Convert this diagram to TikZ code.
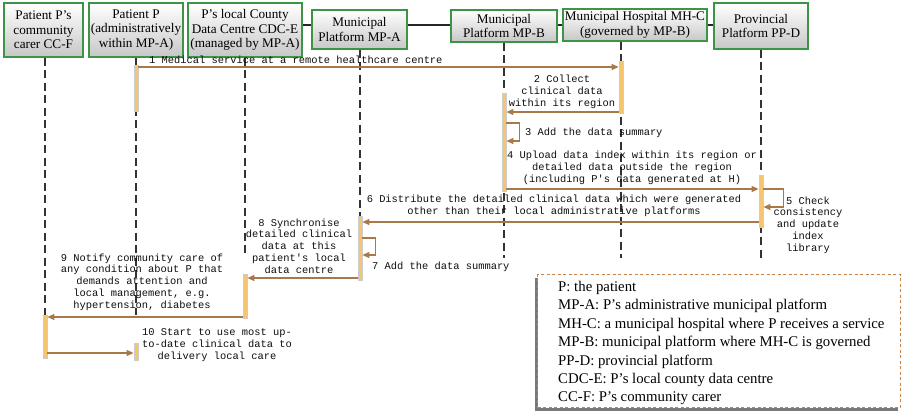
\documentclass[tikz,border=0pt]{standalone}
\usepackage{fontspec}
\setmainfont{Liberation Serif}
\setmonofont{Liberation Mono}
\usetikzlibrary{arrows.meta,shadows}
\definecolor{msgbrown}{RGB}{168,120,72}
\definecolor{barorange}{RGB}{246,197,112}
\definecolor{boxgreen}{RGB}{62,148,70}
\definecolor{legendorange}{RGB}{200,130,70}

\begin{document}
\begin{tikzpicture}[x=1pt, y=1pt,
    actor/.style={rectangle, draw=boxgreen, line width=1.3pt, top color=white, bottom color=black!22, align=center, inner sep=1pt, font=\fontsize{13.2}{14.5}\selectfont},
    lifeline/.style={draw=black!80, line width=1.3pt, dash pattern=on 8pt off 4.5pt},
    actbar/.style={rectangle, draw=black!20, line width=0.8pt, fill=barorange, minimum width=4pt, inner sep=0pt},
    msg/.style={-{Triangle[length=7pt,width=6pt]}, draw=msgbrown, line width=1.1pt},
    msglabel/.style={align=center, inner sep=0pt, text=black!95, font=\fontsize{10.4}{11.8}\selectfont\ttfamily},
]
    \useasboundingbox (0,0) rectangle (903,-413);

    % actors along the top
    \node[actor, minimum width=79pt, minimum height=54pt] (ccf) at (43.5,-30) {Patient P's\\community\\carer CC-F};
    \node[actor, minimum width=94pt, minimum height=54pt] (pat) at (136,-30) {Patient P\\(administratively\\within MP-A)};
    \node[actor, minimum width=114pt, minimum height=54pt] (cdc) at (245,-30) {P's local County\\Data Centre CDC-E\\(managed by MP-A)};
    \node[actor, minimum width=95pt, minimum height=39pt] (mpa) at (359.5,-29.5) {Municipal\\Platform MP-A};
    \node[actor, minimum width=106pt, minimum height=32pt] (mpb) at (504,-26) {Municipal\\Platform MP-B};
    \node[actor, minimum width=144pt, minimum height=32pt] (mhc) at (635,-25) {Municipal Hospital MH-C\\(governed by MP-B)};
    \node[actor, minimum width=94pt, minimum height=46pt] (ppd) at (761,-26) {Provincial\\Platform PP-D};
    \foreach \a/\b in {cdc/mpa, mpa/mpb, mpb/mhc, mhc/ppd}
        \draw[line width=1.2pt, black!85] (\a.east |- 0,-25) -- (\b.west |- 0,-25);

    % lifelines
    \foreach \n/\x/\e in {ccf/45/315, pat/136/315, cdc/245/256, mpa/360/258, mpb/504/258, mhc/621/258, ppd/761/258}
        \draw[lifeline] (\n.south -| \x,0) -- (\x,-\e);

    % activation bars
    \node[actbar, minimum height=46pt] (barP) at (136,-88) {};
    \node[actbar, minimum height=52pt] (barH) at (621,-87) {};
    \node[actbar, minimum height=98pt] (barB) at (504,-142) {};
    \node[actbar, minimum height=52pt] (barD) at (761,-201) {};
    \node[actbar, minimum height=64pt] (barA) at (360,-248) {};
    \node[actbar, minimum height=44pt] (barE) at (245,-296) {};
    \node[actbar, minimum height=43pt] (barF) at (45,-336.5) {};
    \node[actbar, minimum height=17pt] (barQ) at (136,-351.5) {};

    % messages
    \draw[msg] (barP.east |- 0,-67) -- (barH.west |- 0,-67);
    \draw[msg] (barH.west |- 0,-112) -- (barB.east |- 0,-112);
    \draw[msg] (barB.east |- 0,-123) -- ++(13,0) |- (barB.east |- 0,-141);
    \draw[msg] (barB.east |- 0,-189) -- (barD.west |- 0,-189);
    \draw[msg] (barD.east |- 0,-189) -- ++(20,0) |- (barD.east |- 0,-207);
    \draw[msg] (barD.west |- 0,-222) -- (barA.east |- 0,-222);
    \draw[msg] (barA.east |- 0,-238) -- ++(13,0) |- (barA.east |- 0,-255);
    \draw[msg] (barA.west |- 0,-278) -- (barE.east |- 0,-278);
    \draw[msg] (barE.west |- 0,-317) -- (barF.east |- 0,-317);
    \draw[msg] (barF.east |- 0,-353) -- (barQ.west |- 0,-353);

    % message texts
    \node[msglabel, anchor=west] (lbl1) at (149,-60) {1 Medical service at a remote healthcare centre};
    \node[msglabel] (lbl2) at (562,-92) {2 Collect\\clinical data\\within its region};
    \node[msglabel, anchor=west] (lbl3) at (525,-133) {3 Add the data summary};
    \node[msglabel] (lbl4) at (632,-168) {4 Upload data index within its region or\\detailed data outside the region\\(including P's data generated at H)};
    \node[msglabel] (lbl5) at (808,-225) {5 Check\\consistency\\and update\\index\\library};
    \node[msglabel] (lbl6) at (554,-206) {6 Distribute the detailed clinical data which were generated\\other than their local administrative platforms};
    \node[msglabel, anchor=west] (lbl7) at (372,-267) {7 Add the data summary};
    \node[msglabel] (lbl8) at (299,-246) {8 Synchronise\\detailed clinical\\data at this\\patient's local\\data centre};
    \node[msglabel] (lbl9) at (142,-282) {9 Notify community care of\\any condition about P that\\demands attention and\\local management, e.g.\\hypertension, diabetes};
    \node[msglabel] (lbl10) at (217,-345) {10 Start to use most up-\\to-date clinical data to\\delivery local care};

    % key to the abbreviations
    \node[draw=legendorange, dash pattern=on 3pt off 2.5pt, line width=1.3pt, fill=white,
          drop shadow={shadow xshift=-3pt, shadow yshift=-3pt, opacity=0.75, fill=black!70},
          minimum width=363pt, minimum height=133pt, anchor=north west] (legend) at (537,-274) {};
    \node[anchor=north west, align=left, inner sep=0pt, font=\fontsize{14.8}{18.4}\selectfont] (legtext)
        at ([xshift=21pt, yshift=-7pt]legend.north west)
        {P: the patient\\MP-A: P’s administrative municipal platform\\MH-C: a municipal hospital where P receives a service\\MP-B: municipal platform where MH-C is governed\\PP-D: provincial platform\\CDC-E: P’s local county data centre\\CC-F: P’s community carer};
\end{tikzpicture}
\end{document}
